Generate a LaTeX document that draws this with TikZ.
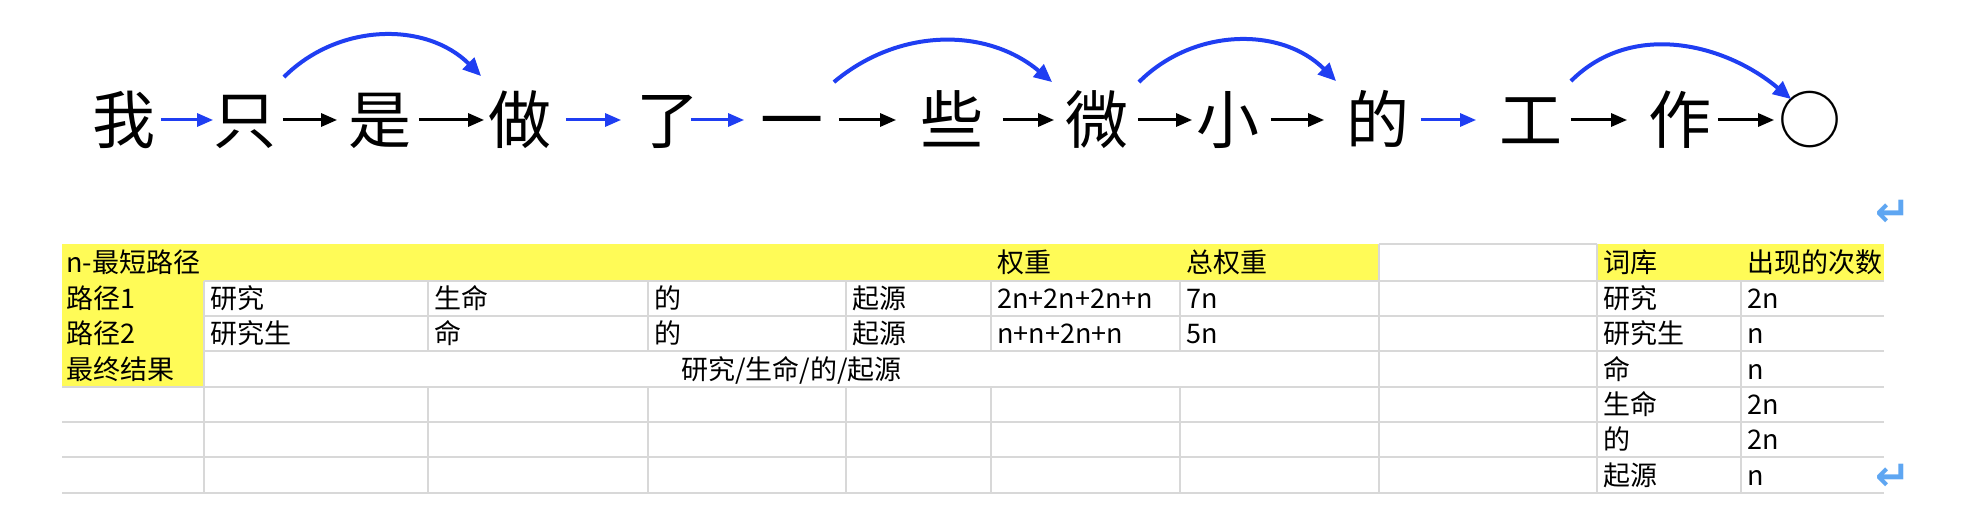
\documentclass[tikz,border=0pt]{standalone}
\usepackage{fontspec}
\setmainfont{Noto Sans CJK SC}
\newfontfamily\symfont{DejaVu Sans}
\usetikzlibrary{arrows.meta}
\definecolor{c1}{HTML}{1F3EF2}
\definecolor{c2}{HTML}{D8D8D8}
\definecolor{c3}{HTML}{FFFB57}
\definecolor{c4}{HTML}{5EA6F2}
\tikzset{
    zi/.style={font=\fontsize{31.5pt}{32pt}\selectfont, inner sep=0pt, text height=27.7pt, text depth=3.8pt},
    jian/.style={line width=1.5pt, -{Triangle[length=8pt,width=6.5pt]}},
    hu/.style={c1, line width=2pt, -{Triangle[length=9pt,width=8pt]}},
    cell/.style={anchor=west, font=\fontsize{13.5pt}{14pt}\selectfont, inner sep=0pt, text height=11.9pt, text depth=1.6pt},
    grid/.style={c2, line width=1pt},
    ret/.style={font=\symfont\bfseries\fontsize{21pt}{21pt}\selectfont, text=c4, inner sep=0pt}
}

\begin{document}
\begin{tikzpicture}[x=0.5pt, y=0.5pt]
        \useasboundingbox (0,0) rectangle (1962,-522);
        % Satz
        \node [zi] (wo)   at (124,-120)  {我};
        \node [zi] (zhi)  at (245,-120)  {只};
        \node [zi] (shi)  at (380,-120)  {是};
        \node [zi] (zuo)  at (520,-120)  {做};
        \node [zi] (le)   at (668,-120)  {了};
        \node [zi] (yi)   at (792,-120)  {一};
        \node [zi] (xie)  at (952,-120)  {些};
        \node [zi] (wei)  at (1097,-120) {微};
        \node [zi] (xiao) at (1228,-120) {小};
        \node [zi] (de)   at (1378,-120) {的};
        \node [zi] (gong) at (1531,-120) {工};
        \node [zi] (zuoo) at (1680,-120) {作};
        \node [zi] (quan) at (1810,-120) {○};
        \draw [jian, c1, shorten <=2.5pt] (wo.east) -- (zhi.west);
        \draw [jian, shorten <=3pt, shorten >=5.5pt] (zhi.east) -- (shi.west);
        \draw [jian, shorten <=3.5pt, shorten >=2pt] (shi.east) -- (zuo.west);
        \draw [jian, c1, shorten <=7pt, shorten >=7.5pt] (zuo.east) -- (le.west);
        \draw [jian, c1, shorten <=-4.5pt, shorten >=8pt] (le.east) -- (yi.west);
        \draw [jian, shorten <=7.5pt, shorten >=12pt] (yi.east) -- (xie.west);
        \draw [jian, shorten <=9.5pt, shorten >=5.5pt] (xie.east) -- (wei.west);
        \draw [jian, shorten <=4.5pt, shorten >=2pt] (wei.east) -- (xiao.west);
        \draw [jian, shorten <=5.5pt, shorten >=11pt] (xiao.east) -- (de.west);
        \draw [jian, c1, shorten <=5.5pt, shorten >=11.5pt] (de.east) -- (gong.west);
        \draw [jian, shorten <=4pt, shorten >=10.5pt] (gong.east) -- (zuoo.west);
        \draw [jian, shorten <=3pt, shorten >=2pt] (zuoo.east) -- (quan.west);
        % Bögen
        \draw [hu] ([xshift=3.5pt, yshift=5.5pt]zhi.north east) to[out=45, in=135] ([xshift=-3.5pt, yshift=6pt]zuo.north west);
        \draw [hu] ([xshift=5pt, yshift=3pt]yi.north east) to[out=40, in=140] ([xshift=-6.5pt, yshift=3pt]wei.north west);
        \draw [hu] ([xshift=5pt, yshift=3pt]wei.north east) to[out=45, in=135] ([xshift=-5pt, yshift=3.5pt]de.north west);
        \draw [hu] ([xshift=4pt, yshift=3.5pt]gong.north east) to[out=45, in=140] ([xshift=6.5pt, yshift=-5.5pt]quan.north west);
        % Tabelle
        \fill [c3] (62,-244) rectangle (1379,-281);
        \fill [c3] (1597,-244) rectangle (1884,-281);
        \fill [c3] (62,-281) rectangle (204,-387);
        \foreach \y in {281,316,351} \draw [grid] (204,-\y) -- (1884,-\y);
        \foreach \y in {387,422,457,493} \draw [grid] (62,-\y) -- (1884,-\y);
        \draw [grid] (1379,-244) -- (1597,-244);
        \draw [grid] (204,-281) -- (204,-493);
        \foreach \x in {428,648,846,991,1180} {
            \draw [grid] (\x,-281) -- (\x,-351);
            \draw [grid] (\x,-387) -- (\x,-493);
        }
        \draw [grid] (1379,-244) -- (1379,-493);
        \draw [grid] (1597,-244) -- (1597,-493);
        \draw [grid] (1741,-281) -- (1741,-493);
        \node [cell] (kopf)  at (66,-262.5)   {n-最短路径};
        \node [cell] (quanz) at (997,-262.5)  {权重};
        \node [cell] (zong)  at (1186,-262.5) {总权重};
        \node [cell] (ciku)  at (1603,-262.5) {词库};
        \node [cell] (cishu) at (1747,-262.5) {出现的次数};
        \node [cell] (lu1)   at (66,-298.5)   {路径1};
        \node [cell] (lu2)   at (66,-333.5)   {路径2};
        \node [cell] (jg)    at (66,-369)     {最终结果};
        \foreach \x/\t [count=\i] in {210/研究, 434/生命, 654/的, 852/起源, 997/2n+2n+2n+n, 1186/7n}
            \node [cell] (a\i) at (\x,-298.5) {\t};
        \foreach \x/\t [count=\i] in {210/研究生, 434/命, 654/的, 852/起源, 997/n+n+2n+n, 1186/5n}
            \node [cell] (b\i) at (\x,-333.5) {\t};
        \node [cell, anchor=center] (erg) at (791.5,-369) {研究/生命/的/起源};
        \foreach \t/\n [count=\i] in {研究/2n, 研究生/n, 命/n, 生命/2n, 的/2n, 起源/n} {
            \node [cell] (k\i) at (1603,{-263-35.3*\i}) {\t};
            \node [cell] (z\i) at (1747,{-263-35.3*\i}) {\n};
        }
        \node [ret] (ret1) at (1893,-213) {↵};
        \node [ret] (ret2) at (1893,-477) {↵};
    \end{tikzpicture}
\end{document}
